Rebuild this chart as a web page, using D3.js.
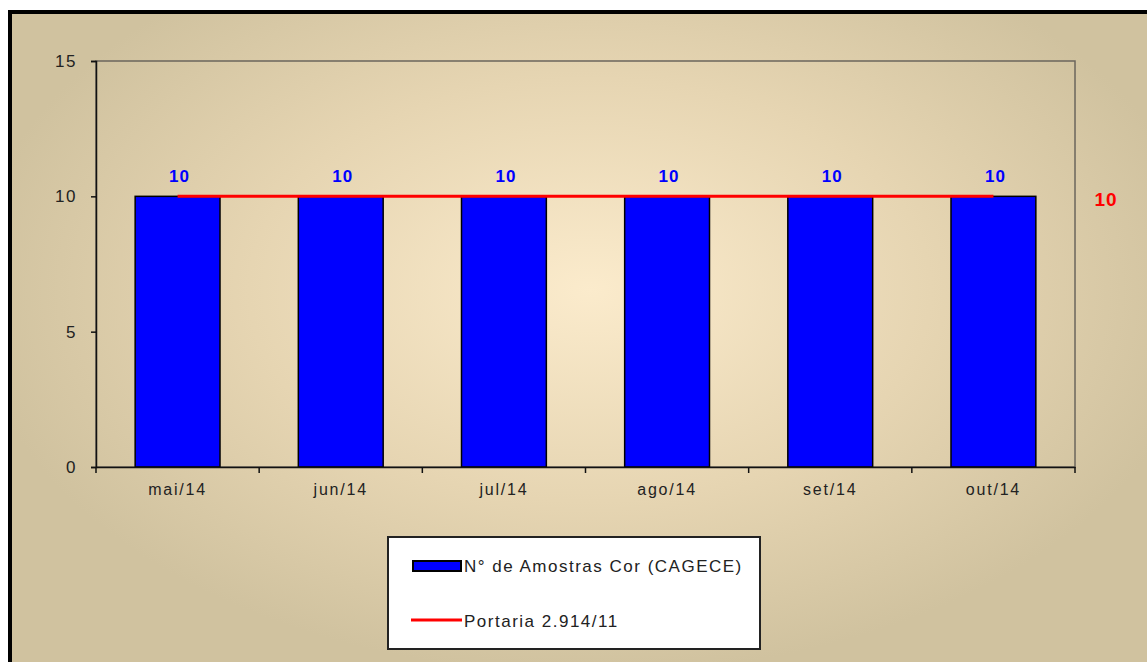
<!DOCTYPE html>
<html><head><meta charset="utf-8">
<script src="https://cdn.jsdelivr.net/npm/d3@7"></script>
<style>body{margin:0;background:#fff}svg{display:block}</style>
</head><body>
<svg id="chart" width="1147" height="662"></svg>
<script>
const categories = ["mai/14","jun/14","jul/14","ago/14","set/14","out/14"];
const amostras = [10,10,10,10,10,10];
const portaria = [10,10,10,10,10,10];
const yTicks = [0,5,10,15];
const seriesNames = ["N° de Amostras Cor (CAGECE)","Portaria 2.914/11"];

const svg = d3.select("#chart");
const W = 1147, H = 662;
const FONT = "Liberation Sans, Arial, sans-serif";
const defs = svg.append("defs");
const rg = defs.append("radialGradient").attr("id","bg")
  .attr("gradientUnits","userSpaceOnUse").attr("cx",590).attr("cy",290).attr("r",620)
  .attr("gradientTransform","translate(590,290) scale(1,0.62) translate(-590,-290)");
rg.append("stop").attr("offset","0").attr("stop-color","#fbebcc");
rg.append("stop").attr("offset","0.55").attr("stop-color","#e6d5b2");
rg.append("stop").attr("offset","1").attr("stop-color","#d0c29f");

svg.append("rect").attr("x",0).attr("y",0).attr("width",W).attr("height",H).attr("fill","#fff");
svg.append("rect").attr("x",10).attr("y",12).attr("width",W+20).attr("height",H+20)
  .attr("fill","url(#bg)").attr("stroke","#000").attr("stroke-width",4);

const m = {left:96, top:61, right:1075, bottom:467};
const x = d3.scaleBand().domain(categories).range([m.left, m.right]).paddingInner(0.48).paddingOuter(0.24);
const xb = d3.scaleBand().domain(categories).range([m.left, m.right]);
const y = d3.scaleLinear().domain([0,15]).range([m.bottom, m.top]);

svg.append("rect").attr("x",m.left).attr("y",m.top).attr("width",m.right-m.left).attr("height",m.bottom-m.top)
  .attr("fill","none").attr("stroke","#6b665c").attr("stroke-width",1.5);

svg.append("g").selectAll("rect").data(amostras).join("rect")
  .attr("x",(d,i)=>x(categories[i])).attr("y",d=>y(d))
  .attr("width",x.bandwidth()).attr("height",d=>y(0)-y(d))
  .attr("fill","#0000ff").attr("stroke","#000").attr("stroke-width",1.5);

const line = d3.line().x((d,i)=>xb(categories[i])+xb.bandwidth()/2).y(d=>y(d));
svg.append("path").datum(portaria).attr("d",line).attr("fill","none").attr("stroke","#ff0000").attr("stroke-width",3);

svg.append("g").selectAll("text").data(amostras).join("text")
  .attr("x",(d,i)=>xb(categories[i])+xb.bandwidth()/2+2).attr("y",d=>y(d)-14)
  .attr("text-anchor","middle").attr("font-family",FONT).attr("letter-spacing",1)
  .attr("font-weight","bold").attr("font-size",17).attr("fill","#0000ff").text(d=>d);

svg.append("text").attr("x",1106).attr("y",y(portaria[portaria.length-1])+10)
  .attr("text-anchor","middle").attr("font-family",FONT).attr("letter-spacing",1)
  .attr("font-weight","bold").attr("font-size",19).attr("fill","#ff0000").text(portaria[portaria.length-1]);

const yAxis = d3.axisLeft(y).tickValues(yTicks).tickSize(5).tickPadding(14);
const gy = svg.append("g").attr("transform",`translate(${m.left},0)`).call(yAxis);
gy.select(".domain").attr("stroke","#111").attr("stroke-width",1.5);
gy.selectAll(".tick line").attr("stroke","#111").attr("stroke-width",1.5);
gy.selectAll("text").attr("font-family",FONT).attr("font-size",17).attr("letter-spacing",1.5).attr("fill","#222");

const gx = svg.append("g").attr("transform",`translate(0,${m.bottom})`)
  .call(d3.axisBottom(xb).tickSize(0).tickPadding(17));
gx.select(".domain").attr("stroke","#111").attr("stroke-width",1.5);
gx.selectAll("text").attr("font-family",FONT).attr("font-size",16).attr("letter-spacing",1.8).attr("fill","#222");
const bounds = categories.map(c=>xb(c)).concat([m.right]);
gx.append("g").selectAll("line").data(bounds).join("line")
  .attr("x1",d=>d).attr("x2",d=>d).attr("y1",0).attr("y2",6).attr("stroke","#111").attr("stroke-width",1.5);

const lg = svg.append("g");
lg.append("rect").attr("x",388).attr("y",537).attr("width",372).attr("height",112)
  .attr("fill","#fff").attr("stroke","#222").attr("stroke-width",2);
lg.append("rect").attr("x",413).attr("y",561).attr("width",48).attr("height",10)
  .attr("fill","#0000ff").attr("stroke","#000").attr("stroke-width",2);
lg.append("line").attr("x1",411).attr("x2",462).attr("y1",620).attr("y2",620).attr("stroke","#ff0000").attr("stroke-width",3);
lg.selectAll("text.l").data(seriesNames).join("text").attr("class","l")
  .attr("x",464).attr("y",(d,i)=>572+i*55)
  .attr("font-family",FONT).attr("font-size",17).attr("letter-spacing",1.5).attr("fill","#222").text(d=>d);
</script>
</body></html>
